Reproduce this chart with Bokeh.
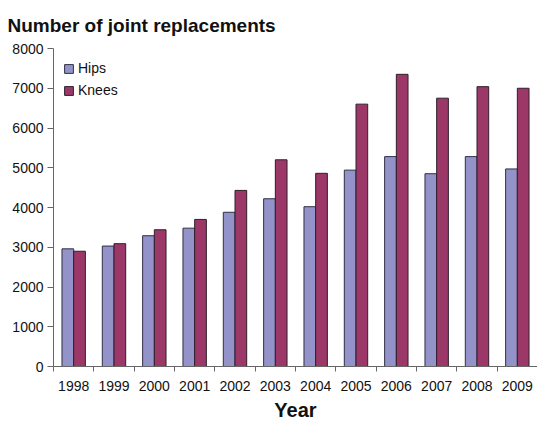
from bokeh.plotting import figure
from bokeh.models import ColumnDataSource, FixedTicker, Range1d, Legend, LegendItem
from bokeh.transform import dodge
from bokeh.embed import file_html
from bokeh.resources import INLINE

years = ["1998", "1999", "2000", "2001", "2002", "2003", "2004", "2005", "2006", "2007", "2008", "2009"]
hips = [2960, 3030, 3290, 3480, 3880, 4220, 4020, 4940, 5280, 4850, 5280, 4970]
knees = [2900, 3090, 3440, 3700, 4430, 5200, 4860, 6600, 7350, 6750, 7040, 7000]
y_ticks = [0, 1000, 2000, 3000, 4000, 5000, 6000, 7000, 8000]

idx = list(range(len(years)))
src = ColumnDataSource(dict(x=idx, hips=hips, knees=knees))

FONT = "Liberation Sans"

p = figure(width=537, height=423, output_backend="svg", toolbar_location=None,
           x_range=Range1d(-0.5, len(years) - 0.5), y_range=Range1d(0, 8000),
           min_border_left=53, min_border_right=0, min_border_top=47, min_border_bottom=50)
p.outline_line_color = None
p.grid.visible = False
p.background_fill_color = "white"

p.title.text = "Number of joint replacements"
p.title.text_font = FONT
p.title.text_font_size = "19px"
p.title.text_font_style = "bold"
p.title.text_color = "#111111"
p.title.offset = -46
p.title.standoff = 25

w = 0.29
r1 = p.vbar(x=dodge("x", -w / 2, range=p.x_range), top="hips", width=w, source=src,
            fill_color="#9393c9", line_color="#2f2f45", line_width=1)
r2 = p.vbar(x=dodge("x", w / 2, range=p.x_range), top="knees", width=w, source=src,
            fill_color="#9c3868", line_color="#2f1f2a", line_width=1)

xa = p.xaxis[0]
xa.ticker = FixedTicker(ticks=idx, minor_ticks=[i - 0.5 for i in range(len(years) + 1)])
xa.major_label_overrides = {i: y for i, y in enumerate(years)}
xa.major_tick_out = 0
xa.major_tick_in = 0
xa.minor_tick_out = 5
xa.minor_tick_in = 0
xa.minor_tick_line_color = "#666666"
xa.axis_line_color = "#666666"
xa.major_label_text_font = FONT
xa.major_label_text_font_size = "14px"
xa.major_label_text_color = "#111111"
xa.major_label_standoff = 9
xa.axis_label = "Year"
xa.axis_label_text_font = FONT
xa.axis_label_text_font_size = "20px"
xa.axis_label_text_font_style = "bold"
xa.axis_label_text_color = "#111111"
xa.axis_label_standoff = 5

ya = p.yaxis[0]
ya.ticker = FixedTicker(ticks=y_ticks, minor_ticks=[])
ya.major_tick_out = 6
ya.major_tick_in = 0
ya.major_tick_line_color = "#666666"
ya.axis_line_color = "#666666"
ya.major_label_text_font = FONT
ya.major_label_text_font_size = "14px"
ya.major_label_text_color = "#111111"
ya.major_label_standoff = 4

legend = Legend(items=[LegendItem(label="Hips", renderers=[r1]),
                       LegendItem(label="Knees", renderers=[r2])],
                location="top_left")
legend.border_line_color = None
legend.background_fill_alpha = 0
legend.label_text_font = FONT
legend.label_text_font_size = "14px"
legend.label_text_color = "#111111"
legend.glyph_width = 11
legend.glyph_height = 11
legend.label_standoff = 4
legend.spacing = 2
legend.label_height = 20
legend.margin = 10
legend.padding = 6
p.add_layout(legend)

open("out.html", "w").write(file_html(p, INLINE))
